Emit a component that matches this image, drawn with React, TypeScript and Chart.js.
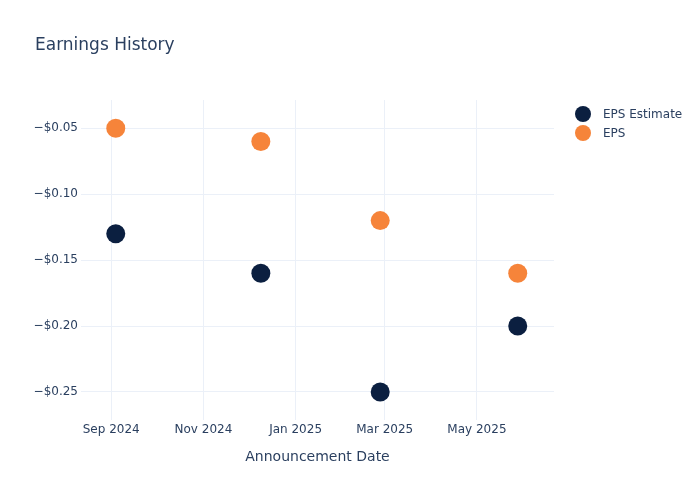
import { useEffect, useRef } from 'react'
import { Chart, registerables } from 'chart.js'

Chart.register(...registerables)

// Announcement dates (UTC) and the two EPS series
const announcementDates = ['2024-09-04', '2024-12-09', '2025-02-26', '2025-05-28']
const epsEstimate = [-0.13, -0.16, -0.25, -0.2]
const epsActual = [-0.05, -0.06, -0.12, -0.16]

// Axis ticks
const xTickDates = ['2024-09-01', '2024-11-01', '2025-01-01', '2025-03-01', '2025-05-01']
const yTickValues = [-0.25, -0.2, -0.15, -0.1, -0.05]
const xRange = ['2024-08-12', '2025-06-21']
const yRange = [-0.2713, -0.0285]

const MONTHS = ['Jan', 'Feb', 'Mar', 'Apr', 'May', 'Jun', 'Jul', 'Aug', 'Sep', 'Oct', 'Nov', 'Dec']
const TEXT = '#2a3f5f'
const GRID = '#ebf0f8'
const NAVY = '#0b1f40'
const ORANGE = '#f6843a'
const FONT = '"DejaVu Sans", Verdana, sans-serif'

const toTime = (d: string) => {
  const [y, m, day] = d.split('-').map(Number)
  return Date.UTC(y, m - 1, day)
}

const fmtDate = (t: number) => {
  const d = new Date(t)
  return `${MONTHS[d.getUTCMonth()]} ${d.getUTCFullYear()}`
}

const fmtMoney = (v: number) => (v < 0 ? '\u2212' : '') + '$' + Math.abs(v).toFixed(2)

const EarningsChart = () => {
  const canvasRef = useRef<HTMLCanvasElement>(null)
  const chartInstance = useRef<Chart | null>(null)

  useEffect(() => {
    if (!canvasRef.current) return
    if (chartInstance.current) chartInstance.current.destroy()

    const xs = announcementDates.map(toTime)

    chartInstance.current = new Chart(canvasRef.current, {
      type: 'scatter',
      data: {
        datasets: [
          {
            label: 'EPS Estimate',
            data: xs.map((x, i) => ({ x, y: epsEstimate[i] })),
            backgroundColor: NAVY,
            borderWidth: 0,
            pointRadius: 9.5,
            pointHoverRadius: 9.5
          },
          {
            label: 'EPS',
            data: xs.map((x, i) => ({ x, y: epsActual[i] })),
            backgroundColor: ORANGE,
            borderWidth: 0,
            pointRadius: 9.5,
            pointHoverRadius: 9.5
          }
        ]
      },
      options: {
        responsive: false,
        animation: false,
        layout: { padding: { top: 100, right: 146, left: 0, bottom: 0 } },
        plugins: {
          legend: { display: false },
          title: { display: false },
          tooltip: { enabled: false }
        },
        scales: {
          x: {
            type: 'linear',
            min: toTime(xRange[0]),
            max: toTime(xRange[1]),
            afterBuildTicks: (scale: any) => {
              scale.ticks = xTickDates.map(d => ({ value: toTime(d) }))
            },
            afterFit: (scale: any) => {
              scale.height = 80
            },
            ticks: {
              callback: (v: any) => fmtDate(Number(v)),
              color: TEXT,
              font: { family: FONT, size: 12 },
              padding: 3,
              maxRotation: 0,
              autoSkip: false
            },
            grid: { color: GRID, lineWidth: 1, drawTicks: false },
            border: { display: false },
            title: {
              display: true,
              text: 'Announcement Date',
              color: TEXT,
              font: { family: FONT, size: 14 },
              padding: { top: 0, bottom: 34 }
            }
          },
          y: {
            min: yRange[0],
            max: yRange[1],
            afterBuildTicks: (scale: any) => {
              scale.ticks = yTickValues.map(v => ({ value: v }))
            },
            afterFit: (scale: any) => {
              scale.width = 81
            },
            ticks: {
              callback: (v: any) => fmtMoney(Number(v)),
              color: TEXT,
              font: { family: FONT, size: 12 },
              padding: 3
            },
            grid: { color: GRID, lineWidth: 1, drawTicks: false },
            border: { display: false }
          }
        }
      }
    })

    return () => {
      if (chartInstance.current) {
        chartInstance.current.destroy()
        chartInstance.current = null
      }
    }
  }, [])

  const legendItems = [
    { label: 'EPS Estimate', color: NAVY },
    { label: 'EPS', color: ORANGE }
  ]

  return (
    <div style={{ position: 'absolute', left: 0, top: 0, width: 700, height: 500, background: '#fff', fontFamily: FONT }}>
      <canvas ref={canvasRef} width={700} height={500} style={{ position: 'absolute', left: 0, top: 0 }}></canvas>
      <div style={{ position: 'absolute', left: 35, top: 33, fontSize: 17, color: TEXT, lineHeight: '22px' }}>
        Earnings History
      </div>
      {legendItems.map((item, i) => (
        <div
          key={item.label}
          style={{ position: 'absolute', left: 575, top: 105 + i * 19, height: 18, display: 'flex', alignItems: 'center' }}
        >
          <span style={{ width: 16, height: 16, borderRadius: '50%', background: item.color, display: 'inline-block' }}></span>
          <span style={{ marginLeft: 12, fontSize: 12, color: TEXT }}>{item.label}</span>
        </div>
      ))}
    </div>
  )
}

export default function App() {
  return <EarningsChart />
}
